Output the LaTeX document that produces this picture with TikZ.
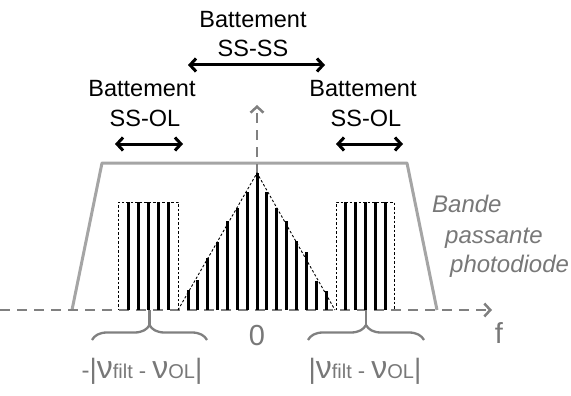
\documentclass[tikz,border=0pt]{standalone}
\usepackage{fontspec}
\setmainfont{Liberation Sans}
\usetikzlibrary{arrows.meta,decorations.pathreplacing}
\definecolor{axisgray}{RGB}{128,128,128}
\definecolor{bandgray}{RGB}{165,165,165}
\definecolor{txtgray}{RGB}{120,120,120}
\newcommand{\fsz}[1]{\fontsize{#1}{#1}\selectfont}
\newcommand{\freqlbl}{{\fsz{28}|}{\fsz{32}ν}{\fsz{20}filt}{\fsz{22} - }{\fsz{32}ν}{\fsz{20}OL}{\fsz{28}|}}
\begin{document}
\begin{tikzpicture}[x=1pt,y=-1pt,
  axis/.style={axisgray,line width=2.5pt,dash pattern=on 10pt off 7pt},
  axtip/.style={-{Straight Barb[length=6pt,width=13pt]}},
  specline/.style={black,line width=3pt},
  envbox/.style={black,line width=0.9pt,dash pattern=on 2.5pt off 2pt},
  beat/.style={black,line width=3pt,{Straight Barb[length=6pt,width=13pt]}-{Straight Barb[length=6pt,width=13pt]}},
  lbl/.style={inner sep=0pt,anchor=base,font=\fsz{23.5}},
  glbl/.style={inner sep=0pt,anchor=base west,text=txtgray,font=\fsz{24}\itshape},
  band/.style={bandgray,line width=3pt,line join=round},
  brc/.style={axisgray,line width=2.3pt,decorate,decoration={brace,amplitude=15pt}},
  ]
\useasboundingbox (0,0) rectangle (571,396);
% photodiode band
\draw[band] (72,310) -- (102,163) -- (407,163) -- (437,310);
% axes
\draw[axis,axtip] (0,310) -- (492,310);
\draw[axis,axtip] (257,310) -- (257,105);
% left comb
\draw[envbox] (178,310) -- (178,202) -- (118,202) -- (118,310);
\foreach \x in {128,138,148,158,168} \draw[specline] (\x,310) -- (\x,202);
% right comb
\draw[envbox] (336,310) -- (336,202) -- (394,202) -- (394,310);
\foreach \x in {345,355,365,375,385} \draw[specline] (\x,310) -- (\x,202);
% triangle
\draw[envbox] (178,310) -- (257,173) -- (335,310);
\foreach \x/\t in {188/290,197/280,207/258,217/242,227/221,237/208,247/192,257/173,266/192,276/208,286/221,296/241,306/252,316/281,326/291}
  \draw[specline] (\x,310) -- (\x,\t);
% braces
\draw[brc] (92,340) -- (207,340);
\draw[axisgray,line width=2.3pt] (149.5,310) -- (149.5,325);
\draw[brc] (308,340) -- (424,340);
\draw[axisgray,line width=2.3pt] (366,310) -- (366,325);
% top labels
\node[lbl] (bss) at (253,28) {Battement};
\node[lbl] (ssss) at (253,57) {SS-SS};
\coordinate (a1) at (188,65); \coordinate (a2) at (325,65);
\draw[beat] (a1) -- (a2);
\node[lbl] (bl) at (142,97) {Battement};
\node[lbl] (sl) at (145,126) {SS-OL};
\coordinate (b1) at (115,144); \coordinate (b2) at (183,144);
\draw[beat] (b1) -- (b2);
\node[lbl] (brt) at (363,97) {Battement};
\node[lbl] (sr) at (366,126) {SS-OL};
\coordinate (c1) at (336,144); \coordinate (c2) at (403,144);
\draw[beat] (c1) -- (c2);
% band label
\node[glbl] (t1) at (432,212) {Bande};
\node[glbl] (t2) at (445,243) {passante};
\node[glbl] (t3) at (450,272) {photodiode};
% axis labels
\node[inner sep=0pt,anchor=base,text=txtgray,font=\fsz{29}] (zero) at (257,345) {0};
\node[inner sep=0pt,anchor=base,text=txtgray,font=\fsz{29}] (f) at (499,343) {f};
% frequency labels
\node[inner sep=0pt,anchor=base,text=txtgray] (fl) at (142,378) {{\fsz{24}-}\freqlbl};
\node[inner sep=0pt,anchor=base,text=txtgray] (fr) at (365,378) {\freqlbl};
\end{tikzpicture}
\end{document}
